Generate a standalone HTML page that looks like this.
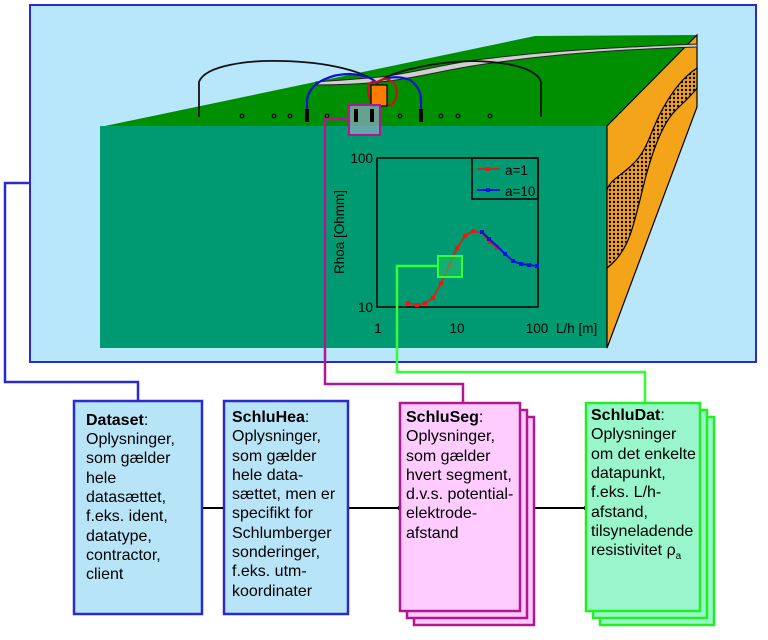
<!DOCTYPE html>
<html><head><meta charset="utf-8"><style>html,body{margin:0;padding:0;background:#fff}svg{display:block}</style></head>
<body>
<svg width="768" height="640" viewBox="0 0 768 640" xmlns="http://www.w3.org/2000/svg" font-family="Liberation Sans, sans-serif">
<defs>
<pattern id="dots" width="4" height="4" patternUnits="userSpaceOnUse"><rect width="4" height="4" fill="#f0a020"/><circle cx="2" cy="2" r="1.2" fill="#000"/></pattern>
</defs>
<rect x="30" y="5" width="726" height="357" fill="#b8e6fa" stroke="#2a2ad0" stroke-width="2"/>
<polygon points="100,127 535,36 697,35 607,126" fill="#008f00"/>
<rect x="100" y="126" width="507" height="222" fill="#009a72"/>
<polygon points="607,126 697,35 697,107 607,348" fill="#f4a418" stroke="#000" stroke-width="1.2"/>
<path d="M697,68 C682,78 672,92 662,110 C650,132 648,150 632,165 C618,178 610,180 607,190 L607,268 C628,252 632,230 640,200 C648,165 660,125 676,110 C686,100 692,95 697,88 Z" fill="url(#dots)" stroke="#000" stroke-width="1.2"/>
<path d="M316,82 C340,80 360,79 380,77 C420,72 450,62 493,58 C540,52 600,48 697,44 L697,47 C600,50 540,56 493,63 C450,68 420,78 380,82 C360,84 340,85 316,85 Z" fill="#cfcfcf" stroke="#222" stroke-width="1"/>
<path d="M199,117 L199,82 C205,65 250,60 282,61 C330,62 365,72 377,83 C390,72 430,62 472,61 C520,62 538,72 541,82 L541,117" fill="none" stroke="#111" stroke-width="1.8"/>
<path d="M307,115 L307,100 C310,80 335,74 350,74 C365,75 372,78 377,83 C385,76 400,76 410,80 C418,86 421,92 421,100 L421,115" fill="none" stroke="#1010d0" stroke-width="2.2"/>
<path d="M371,102 C365,88 368,80 377,82 C386,76 396,80 397,92 C396,102 392,106 387,105" fill="none" stroke="#d01010" stroke-width="2"/>
<rect x="371" y="85" width="16" height="21" fill="#ff7a00" stroke="#000" stroke-width="1.2"/>
<rect x="305" y="109" width="4" height="13" fill="#000"/><rect x="419" y="109" width="4" height="13" fill="#000"/>
<g fill="none" stroke="#000" stroke-width="1.2">
<circle cx="242" cy="116" r="1.8"/><circle cx="274" cy="116" r="1.8"/><circle cx="290" cy="116" r="1.8"/><circle cx="327" cy="116" r="1.8"/>
<circle cx="400" cy="116" r="1.8"/><circle cx="441" cy="116" r="1.8"/><circle cx="458" cy="116" r="1.8"/><circle cx="490" cy="116" r="1.8"/>
</g>
<rect x="349" y="105" width="31" height="30" fill="#8aa8c0" fill-opacity="0.75" stroke="#b0188f" stroke-width="2"/>
<rect x="354" y="109" width="4" height="13" fill="#000"/><rect x="370" y="109" width="4" height="13" fill="#000"/>
<rect x="377" y="158" width="161" height="149" fill="none" stroke="#000" stroke-width="1.5"/>
<g font-size="13.5" fill="#000">
<text x="373" y="163" text-anchor="end">100</text>
<text x="373" y="312" text-anchor="end">10</text>
<text x="378" y="333" text-anchor="middle">1</text>
<text x="457" y="333" text-anchor="middle">10</text>
<text x="537" y="333" text-anchor="middle">100</text>
<text x="556" y="333">L/h [m]</text>
<text transform="translate(344,232) rotate(-90)" text-anchor="middle">Rhoa [Ohmm]</text>
</g>
<polyline points="408,303 417,305 425,303 433,298 441,283 449,266 457,248 465,236 473,231 482,233 490,242 497,248" fill="none" stroke="#c03020" stroke-width="2"/>
<g fill="#ff1010"><rect x="406" y="301" width="4" height="4"/><rect x="415" y="303" width="4" height="4"/><rect x="423" y="301" width="4" height="4"/><rect x="431" y="296" width="4" height="4"/><rect x="439" y="281" width="4" height="4"/><rect x="447" y="264" width="4" height="4"/><rect x="455" y="246" width="4" height="4"/><rect x="463" y="234" width="4" height="4"/><rect x="471" y="229" width="4" height="4"/><rect x="488" y="240" width="4" height="4"/><rect x="495" y="246" width="4" height="4"/></g>
<polyline points="482,232 489,239 497,246 505,254 513,261 521,264 529,265 537,266" fill="none" stroke="#1010e0" stroke-width="2"/>
<g fill="#1010e0"><rect x="480" y="230" width="4" height="4"/><rect x="487" y="237" width="4" height="4"/><rect x="503" y="252" width="4" height="4"/><rect x="511" y="259" width="4" height="4"/><rect x="519" y="262" width="4" height="4"/><rect x="527" y="263" width="4" height="4"/><rect x="535" y="264" width="4" height="4"/></g>
<rect x="472" y="158" width="66" height="41" fill="none" stroke="#000" stroke-width="1.5"/>
<line x1="477" y1="169" x2="500" y2="169" stroke="#c03020" stroke-width="2"/><rect x="486" y="167" width="4" height="4" fill="#ff1010"/>
<line x1="477" y1="190" x2="500" y2="190" stroke="#1010e0" stroke-width="2"/><rect x="486" y="188" width="4" height="4" fill="#1010e0"/>
<text x="505" y="175" font-size="13.5">a=1</text><text x="505" y="196" font-size="13.5">a=10</text>
<rect x="438" y="256" width="24" height="21" fill="#20c070" fill-opacity="0.6" stroke="#33ff33" stroke-width="2"/>
<polyline points="30,183 5,183 5,382 138,382 138,401" fill="none" stroke="#2a2ad0" stroke-width="2.5"/>
<polyline points="349,119 325,119 325,384 463,384 463,403" fill="none" stroke="#b0188f" stroke-width="2.5"/>
<polyline points="438,266 397,266 397,372 645,372 645,403" fill="none" stroke="#33ff33" stroke-width="2.5"/>
<g stroke="#000" stroke-width="2"><line x1="202" y1="508" x2="224" y2="508"/><line x1="348" y1="508" x2="400" y2="508"/><line x1="520" y1="508" x2="586" y2="508"/></g>
<circle cx="400" cy="508" r="2.5"/><circle cx="586" cy="508" r="2.5"/>
<rect x="74" y="401" width="128" height="213" fill="#b8e4f8" stroke="#2a2ad0" stroke-width="2.5"/>
<rect x="224" y="401" width="124" height="213" fill="#b8e4f8" stroke="#2a2ad0" stroke-width="2.5"/>
<rect x="414" y="417" width="120" height="208" fill="#ffccff" stroke="#b0188f" stroke-width="2.5"/>
<rect x="407" y="410" width="120" height="208" fill="#ffccff" stroke="#b0188f" stroke-width="2.5"/>
<rect x="400" y="403" width="120" height="208" fill="#ffccff" stroke="#b0188f" stroke-width="2.5"/>
<rect x="600" y="417" width="114" height="208" fill="#99f5cc" stroke="#22ee22" stroke-width="2.5"/>
<rect x="593" y="410" width="114" height="208" fill="#99f5cc" stroke="#22ee22" stroke-width="2.5"/>
<rect x="586" y="403" width="114" height="208" fill="#99f5cc" stroke="#22ee22" stroke-width="2.5"/>
<g font-size="16" fill="#000">
<text x="86" y="425"><tspan font-weight="bold">Dataset</tspan>:</text>
<text x="86" y="444">Oplysninger,</text><text x="86" y="463">som gælder</text><text x="86" y="483">hele</text><text x="86" y="502">datasættet,</text><text x="86" y="521">f.eks. ident,</text><text x="86" y="541">datatype,</text><text x="86" y="560">contractor,</text><text x="86" y="579">client</text>
<text x="232" y="422"><tspan font-weight="bold">SchluHea</tspan>:</text>
<text x="232" y="441">Oplysninger,</text><text x="232" y="461">som gælder</text><text x="232" y="480">hele data-</text><text x="232" y="499">sættet, men er</text><text x="232" y="518">specifikt for</text><text x="232" y="538">Schlumberger</text><text x="232" y="557">sonderinger,</text><text x="232" y="576">f.eks. utm-</text><text x="232" y="596">koordinater</text>
<text x="406" y="422"><tspan font-weight="bold">SchluSeg</tspan>:</text>
<text x="406" y="441">Oplysninger,</text><text x="406" y="461">som gælder</text><text x="406" y="480">hvert segment,</text><text x="406" y="499">d.v.s.  potential-</text><text x="406" y="518">elektrode-</text><text x="406" y="538">afstand</text>
<text x="591" y="420"><tspan font-weight="bold">SchluDat</tspan>:</text>
<text x="591" y="439">Oplysninger</text><text x="591" y="459">om det enkelte</text><text x="591" y="478">datapunkt,</text><text x="591" y="497">f.eks. L/h-</text><text x="591" y="517">afstand,</text><text x="591" y="536">tilsyneladende</text><text x="591" y="555">resistivitet ρ<tspan font-size="10" dy="4">a</tspan></text>
</g>
</svg>
</body></html>
